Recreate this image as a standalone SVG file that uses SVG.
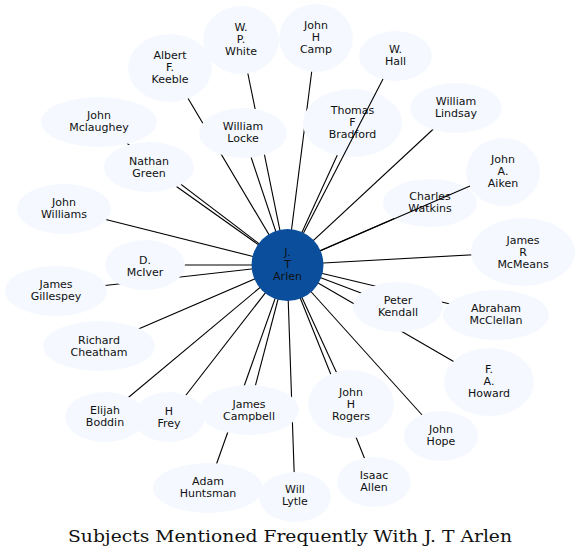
<svg xmlns="http://www.w3.org/2000/svg" width="580" height="557" viewBox="0 0 580 557">
<style>
.n ellipse{fill:#f5f9ff;stroke:none}
.n text{font-family:"DejaVu Sans",sans-serif;font-size:11px;fill:#111;text-anchor:middle}
.e line{stroke:#000;stroke-width:1.1}
#arlen circle{fill:#0b4f9c}
.t{font-family:"DejaVu Serif",serif;font-size:17px;fill:#111;text-anchor:middle}
</style>
<rect width="580" height="557" fill="#fff"/>
<g id="edges-under" class="e">
<line x1="287" y1="265" x2="170" y2="68"/>
<line x1="287" y1="265" x2="241" y2="40"/>
<line x1="287" y1="265" x2="316" y2="38"/>
<line x1="287" y1="265" x2="352" y2="123"/>
<line x1="287" y1="265" x2="456" y2="108"/>
<line x1="287" y1="265" x2="430" y2="203"/>
<line x1="287" y1="265" x2="523" y2="252"/>
<line x1="287" y1="265" x2="398" y2="307"/>
<line x1="287" y1="265" x2="496" y2="315"/>
<line x1="287" y1="265" x2="489" y2="382"/>
<line x1="287" y1="265" x2="441" y2="436"/>
<line x1="287" y1="265" x2="374" y2="482"/>
<line x1="287" y1="265" x2="351" y2="404"/>
<line x1="287" y1="265" x2="295" y2="497"/>
<line x1="287" y1="265" x2="208" y2="488"/>
<line x1="287" y1="265" x2="249" y2="410"/>
<line x1="287" y1="265" x2="169" y2="417"/>
<line x1="287" y1="265" x2="105" y2="417"/>
<line x1="287" y1="265" x2="99" y2="346"/>
<line x1="287" y1="265" x2="56" y2="291"/>
<line x1="287" y1="265" x2="145" y2="265"/>
<line x1="287" y1="265" x2="64" y2="209"/>
<line x1="287" y1="265" x2="149" y2="167"/>
<line x1="287" y1="265" x2="99" y2="122"/>
<line x1="287" y1="265" x2="243" y2="133"/>
</g>
<g id="keeble" class="n"><ellipse cx="170" cy="68" rx="42" ry="34"/><text x="170" y="59">Albert<tspan x="170" dy="12">F.</tspan><tspan x="170" dy="12">Keeble</tspan></text></g>
<g id="wpwhite" class="n"><ellipse cx="241" cy="40" rx="38" ry="34"/><text x="241" y="31">W.<tspan x="241" dy="12">P.</tspan><tspan x="241" dy="12">White</tspan></text></g>
<g id="camp" class="n"><ellipse cx="316" cy="38" rx="37" ry="34"/><text x="316" y="29">John<tspan x="316" dy="12">H</tspan><tspan x="316" dy="12">Camp</tspan></text></g>
<g id="whall" class="n"><ellipse cx="395.5" cy="56" rx="36.5" ry="25"/><text x="395.5" y="53">W.<tspan x="395.5" dy="12">Hall</tspan></text></g>
<g id="bradford" class="n"><ellipse cx="352.5" cy="123" rx="49.5" ry="34"/><text x="352.5" y="114">Thomas<tspan x="352.5" dy="12">F</tspan><tspan x="352.5" dy="12">Bradford</tspan></text></g>
<g id="lindsay" class="n"><ellipse cx="456" cy="108" rx="46" ry="25"/><text x="456" y="105">William<tspan x="456" dy="12">Lindsay</tspan></text></g>
<g id="aiken" class="n"><ellipse cx="503" cy="172" rx="37" ry="34"/><text x="503" y="163">John<tspan x="503" dy="12">A.</tspan><tspan x="503" dy="12">Aiken</tspan></text></g>
<g id="watkins" class="n"><ellipse cx="430" cy="203" rx="47" ry="24"/><text x="430" y="200">Charles<tspan x="430" dy="12">Watkins</tspan></text></g>
<g id="mcmeans" class="n"><ellipse cx="523" cy="252" rx="52" ry="34"/><text x="523" y="244">James<tspan x="523" dy="12">R</tspan><tspan x="523" dy="12">McMeans</tspan></text></g>
<g id="kendall" class="n"><ellipse cx="398" cy="307" rx="45" ry="25"/><text x="398" y="304">Peter<tspan x="398" dy="12">Kendall</tspan></text></g>
<g id="mcclellan" class="n"><ellipse cx="496" cy="315" rx="53" ry="25"/><text x="496" y="312">Abraham<tspan x="496" dy="12">McClellan</tspan></text></g>
<g id="howard" class="n"><ellipse cx="489" cy="382" rx="45" ry="34"/><text x="489" y="373">F.<tspan x="489" dy="12">A.</tspan><tspan x="489" dy="12">Howard</tspan></text></g>
<g id="hope" class="n"><ellipse cx="441" cy="436" rx="37" ry="25"/><text x="441" y="433">John<tspan x="441" dy="12">Hope</tspan></text></g>
<g id="allen" class="n"><ellipse cx="374" cy="482" rx="37" ry="25"/><text x="374" y="479">Isaac<tspan x="374" dy="12">Allen</tspan></text></g>
<g id="rogers" class="n"><ellipse cx="351" cy="404" rx="43" ry="34"/><text x="351" y="396">John<tspan x="351" dy="12">H</tspan><tspan x="351" dy="12">Rogers</tspan></text></g>
<g id="lytle" class="n"><ellipse cx="295" cy="497" rx="36" ry="25"/><text x="295" y="493">Will<tspan x="295" dy="12">Lytle</tspan></text></g>
<g id="huntsman" class="n"><ellipse cx="208" cy="488" rx="55" ry="25"/><text x="208" y="485">Adam<tspan x="208" dy="12">Huntsman</tspan></text></g>
<g id="campbell" class="n"><ellipse cx="249" cy="410" rx="50" ry="25"/><text x="249" y="408">James<tspan x="249" dy="12">Campbell</tspan></text></g>
<g id="frey" class="n"><ellipse cx="169" cy="417" rx="36" ry="25"/><text x="169" y="415">H<tspan x="169" dy="12">Frey</tspan></text></g>
<g id="boddin" class="n"><ellipse cx="105" cy="417" rx="40" ry="25"/><text x="105" y="414">Elijah<tspan x="105" dy="12">Boddin</tspan></text></g>
<g id="cheatham" class="n"><ellipse cx="99" cy="346" rx="56" ry="25"/><text x="99" y="344">Richard<tspan x="99" dy="12">Cheatham</tspan></text></g>
<g id="gillespey" class="n"><ellipse cx="56" cy="291" rx="51" ry="25"/><text x="56" y="288">James<tspan x="56" dy="12">Gillespey</tspan></text></g>
<g id="mciver" class="n"><ellipse cx="145" cy="265" rx="40" ry="25"/><text x="145" y="264">D.<tspan x="145" dy="12">McIver</tspan></text></g>
<g id="jwilliams" class="n"><ellipse cx="64" cy="209" rx="47" ry="25"/><text x="64" y="206">John<tspan x="64" dy="12">Williams</tspan></text></g>
<g id="green" class="n"><ellipse cx="149" cy="167" rx="45" ry="25"/><text x="149" y="165">Nathan<tspan x="149" dy="12">Green</tspan></text></g>
<g id="mclaughey" class="n"><ellipse cx="99" cy="122" rx="58" ry="25"/><text x="99" y="119">John<tspan x="99" dy="12">Mclaughey</tspan></text></g>
<g id="locke" class="n"><ellipse cx="243" cy="133" rx="44" ry="25"/><text x="243" y="130">William<tspan x="243" dy="12">Locke</tspan></text></g>
<g id="edges-over" class="e">
<line x1="303.5" y1="233" x2="383" y2="79"/>
<line x1="320" y1="251" x2="470" y2="186"/>
</g>
<g id="arlen"><circle cx="287.5" cy="265" r="36"/><text x="287.5" y="256" style="font-family:'DejaVu Sans',sans-serif;font-size:11px;fill:#111;text-anchor:middle">J.<tspan x="287.5" dy="12">T</tspan><tspan x="287.5" dy="12">Arlen</tspan></text></g>
<text class="t" x="290" y="542" textLength="444" lengthAdjust="spacingAndGlyphs">Subjects Mentioned Frequently With J. T Arlen</text>
</svg>
